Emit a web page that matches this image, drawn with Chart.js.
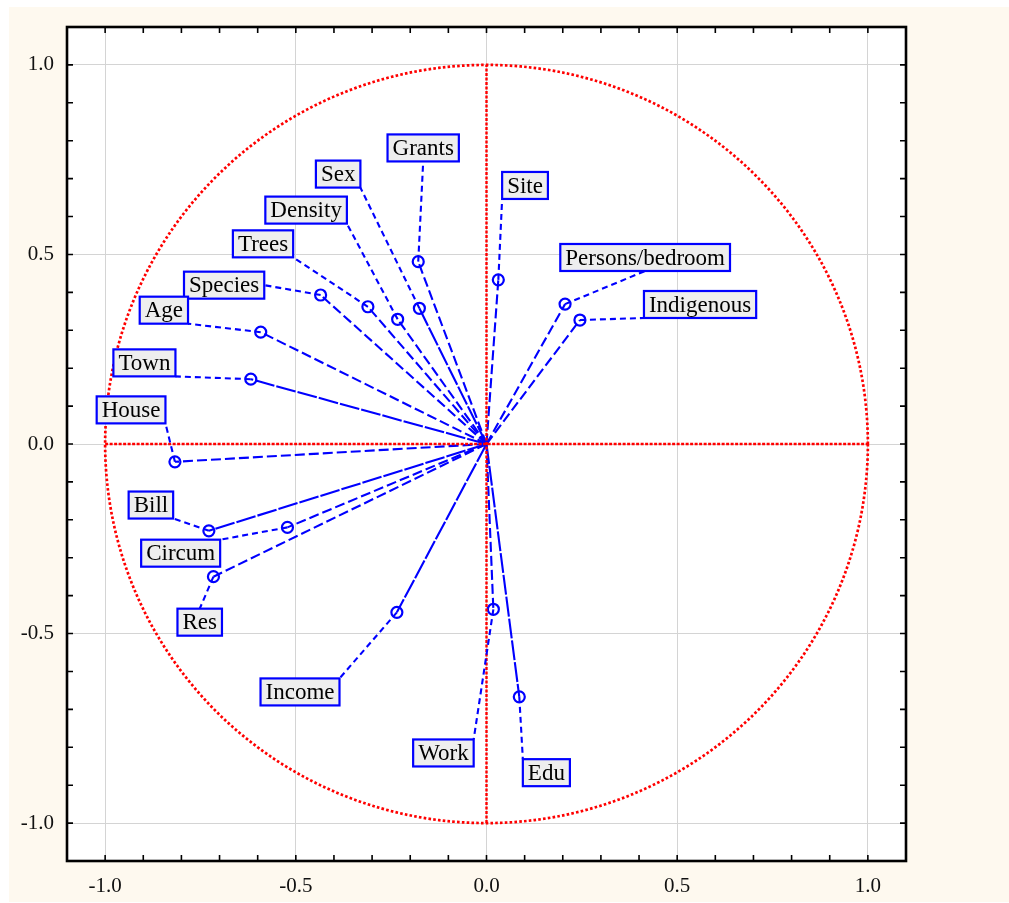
<!DOCTYPE html>
<html>
<head>
<meta charset="utf-8">
<title>Projection of the variables on the factor-plane</title>
<script src="https://cdn.jsdelivr.net/npm/chart.js@4.4.1/dist/chart.umd.min.js"></script>
<style>
  html, body { margin: 0; padding: 0; background: #ffffff; }
  #bg { position: absolute; left: 9px; top: 7px; width: 1000px; height: 895px; background: #fef9ef; }
  #wrap { position: absolute; left: 0; top: 0; width: 1009px; height: 903px; }
</style>
</head>
<body>
<div id="bg"></div>
<div id="wrap"><canvas id="c" width="1009" height="903"></canvas></div>
<script>
// Variable names and their loadings on factor 1 (x) and factor 2 (y)
const variables = ['Grants', 'Sex', 'Density', 'Trees', 'Species', 'Age', 'Town', 'House',
                   'Bill', 'Circum', 'Res', 'Income', 'Work', 'Edu', 'Site',
                   'Persons/bedroom', 'Indigenous'];
const factor1 = [-0.179, -0.176, -0.233, -0.311, -0.435, -0.592, -0.618, -0.817,
                 -0.728, -0.522, -0.716, -0.235, 0.018, 0.086, 0.031, 0.206, 0.245];
const factor2 = [0.481, 0.358, 0.329, 0.362, 0.393, 0.295, 0.171, -0.047,
                 -0.229, -0.220, -0.350, -0.444, -0.436, -0.667, 0.433, 0.369, 0.327];

// Where each name tag sits (centre of the tag, in axis units)
const tagX = [-0.166, -0.389, -0.473, -0.586, -0.688, -0.846, -0.897, -0.932,
              -0.880, -0.802, -0.752, -0.489, -0.113, 0.157, 0.101, 0.416, 0.560];
const tagY = [0.781, 0.712, 0.617, 0.528, 0.419, 0.353, 0.214, 0.090,
              -0.161, -0.288, -0.470, -0.654, -0.815, -0.867, 0.682, 0.492, 0.368];

// Axis ticks
const axisMin = -1.1, axisMax = 1.1, minorStep = 0.1;
const isMajor = v => Math.abs(v * 2 - Math.round(v * 2)) < 1e-6;

const BLUE = '#0000ff';
const RED = '#ff0000';
const SERIF = "'Liberation Serif', 'Times New Roman', serif";

// Rays that render with near-solid long dashes
const longDash = new Set(['Sex', 'Town', 'Bill', 'Income', 'Edu']);

const datasets = variables.map((name, i) => ({
  label: name,
  data: [{ x: 0, y: 0 }, { x: factor1[i], y: factor2[i] }],
  showLine: true,
  borderColor: BLUE,
  borderWidth: 2.1,
  borderDash: longDash.has(name) ? [20, 2] : [10, 4],
  pointRadius: ctx => (ctx.dataIndex === 1 ? 5.5 : 0),
  pointHoverRadius: ctx => (ctx.dataIndex === 1 ? 5.5 : 0),
  pointStyle: 'circle',
  pointBorderColor: BLUE,
  pointBackgroundColor: 'rgba(0,0,0,0)',
  pointBorderWidth: 2.2
}));

const decor = {
  id: 'decor',
  beforeDraw(chart) {
    const { ctx, chartArea: a } = chart;
    ctx.save();
    ctx.fillStyle = '#ffffff';
    ctx.fillRect(a.left, a.top, a.right - a.left, a.bottom - a.top);
    ctx.restore();
  },
  afterDatasetsDraw(chart) {
    const { ctx } = chart;
    const xs = chart.scales.x, ys = chart.scales.y;
    const cx = xs.getPixelForValue(0), cy = ys.getPixelForValue(0);

    // unit correlation circle and the two reference axes
    ctx.save();
    ctx.strokeStyle = RED;
    ctx.lineWidth = 2.7;
    ctx.setLineDash([2.6, 2.2]);
    ctx.beginPath();
    ctx.ellipse(cx, cy, xs.getPixelForValue(1) - cx, cy - ys.getPixelForValue(1), 0, 0, Math.PI * 2);
    ctx.stroke();
    ctx.setLineDash([3, 1.5]);
    ctx.lineWidth = 2.4;
    ctx.beginPath();
    ctx.moveTo(xs.getPixelForValue(-1), cy);
    ctx.lineTo(xs.getPixelForValue(1), cy);
    ctx.moveTo(cx, ys.getPixelForValue(-1));
    ctx.lineTo(cx, ys.getPixelForValue(1));
    ctx.stroke();
    ctx.restore();

    // name tags with dashed leaders back to each point
    ctx.save();
    ctx.font = '23px ' + SERIF;
    variables.forEach((name, i) => {
      const px = xs.getPixelForValue(factor1[i]);
      const py = ys.getPixelForValue(factor2[i]);
      const tx = xs.getPixelForValue(tagX[i]);
      const ty = ys.getPixelForValue(tagY[i]);
      const w = ctx.measureText(name).width + 10;
      const h = 27;
      const l = tx - w / 2, r = tx + w / 2, t = ty - h / 2, b = ty + h / 2;
      const ax = px < l ? l : (px > r ? r : tx);
      const ay = py < t ? t : (py > b ? b : ty);

      ctx.strokeStyle = BLUE;
      ctx.lineWidth = 2.1;
      ctx.setLineDash([6, 4]);
      ctx.beginPath();
      ctx.moveTo(px, py);
      ctx.lineTo(ax, ay);
      ctx.stroke();

      ctx.setLineDash([]);
      ctx.fillStyle = '#eeeeee';
      ctx.fillRect(l, t, w, h);
      ctx.lineWidth = 2.2;
      ctx.strokeRect(l, t, w, h);
      ctx.fillStyle = '#000000';
      ctx.textAlign = 'center';
      ctx.textBaseline = 'middle';
      ctx.fillText(name, tx, ty + 1);
    });
    ctx.restore();
  },
  afterDraw(chart) {
    const { ctx, chartArea: a } = chart;
    const xs = chart.scales.x, ys = chart.scales.y;
    ctx.save();
    ctx.strokeStyle = '#000000';
    ctx.lineWidth = 1.6;
    ctx.beginPath();
    xs.ticks.forEach(t => {
      const p = xs.getPixelForValue(t.value);
      if (p <= a.left + 2 || p >= a.right - 2) return;
      ctx.moveTo(p, a.bottom); ctx.lineTo(p, a.bottom - 6);
      ctx.moveTo(p, a.top); ctx.lineTo(p, a.top + 6);
    });
    ys.ticks.forEach(t => {
      const p = ys.getPixelForValue(t.value);
      if (p <= a.top + 2 || p >= a.bottom - 2) return;
      ctx.moveTo(a.left, p); ctx.lineTo(a.left + 6, p);
      ctx.moveTo(a.right, p); ctx.lineTo(a.right - 6, p);
    });
    ctx.stroke();
    ctx.lineWidth = 2.6;
    ctx.strokeRect(a.left, a.top, a.right - a.left, a.bottom - a.top);
    ctx.restore();
  }
};

const axisCommon = {
  type: 'linear',
  min: axisMin,
  max: axisMax,
  border: { display: false },
  grid: {
    drawTicks: false,
    lineWidth: 1,
    color: ctx => (ctx.tick && isMajor(ctx.tick.value) ? '#d4d4d4' : 'rgba(0,0,0,0)')
  },
  ticks: {
    stepSize: minorStep,
    autoSkip: false,
    maxRotation: 0,
    color: '#111111',
    font: { family: SERIF, size: 21 },
    callback: v => (isMajor(v) ? v.toFixed(1) : '')
  }
};

new Chart(document.getElementById('c'), {
  type: 'scatter',
  data: { datasets },
  options: {
    responsive: false,
    animation: false,
    events: [],
    layout: { padding: { top: 27, right: 103, bottom: 0, left: 0 } },
    plugins: { legend: { display: false }, tooltip: { enabled: false } },
    scales: {
      x: Object.assign({}, axisCommon, {
        position: 'bottom',
        ticks: Object.assign({}, axisCommon.ticks, { padding: 13 }),
        afterFit: s => { s.height = 42; }
      }),
      y: Object.assign({}, axisCommon, {
        position: 'left',
        ticks: Object.assign({}, axisCommon.ticks, { padding: 13 }),
        afterFit: s => { s.width = 67; }
      })
    }
  },
  plugins: [decor]
});
</script>
</body>
</html>
